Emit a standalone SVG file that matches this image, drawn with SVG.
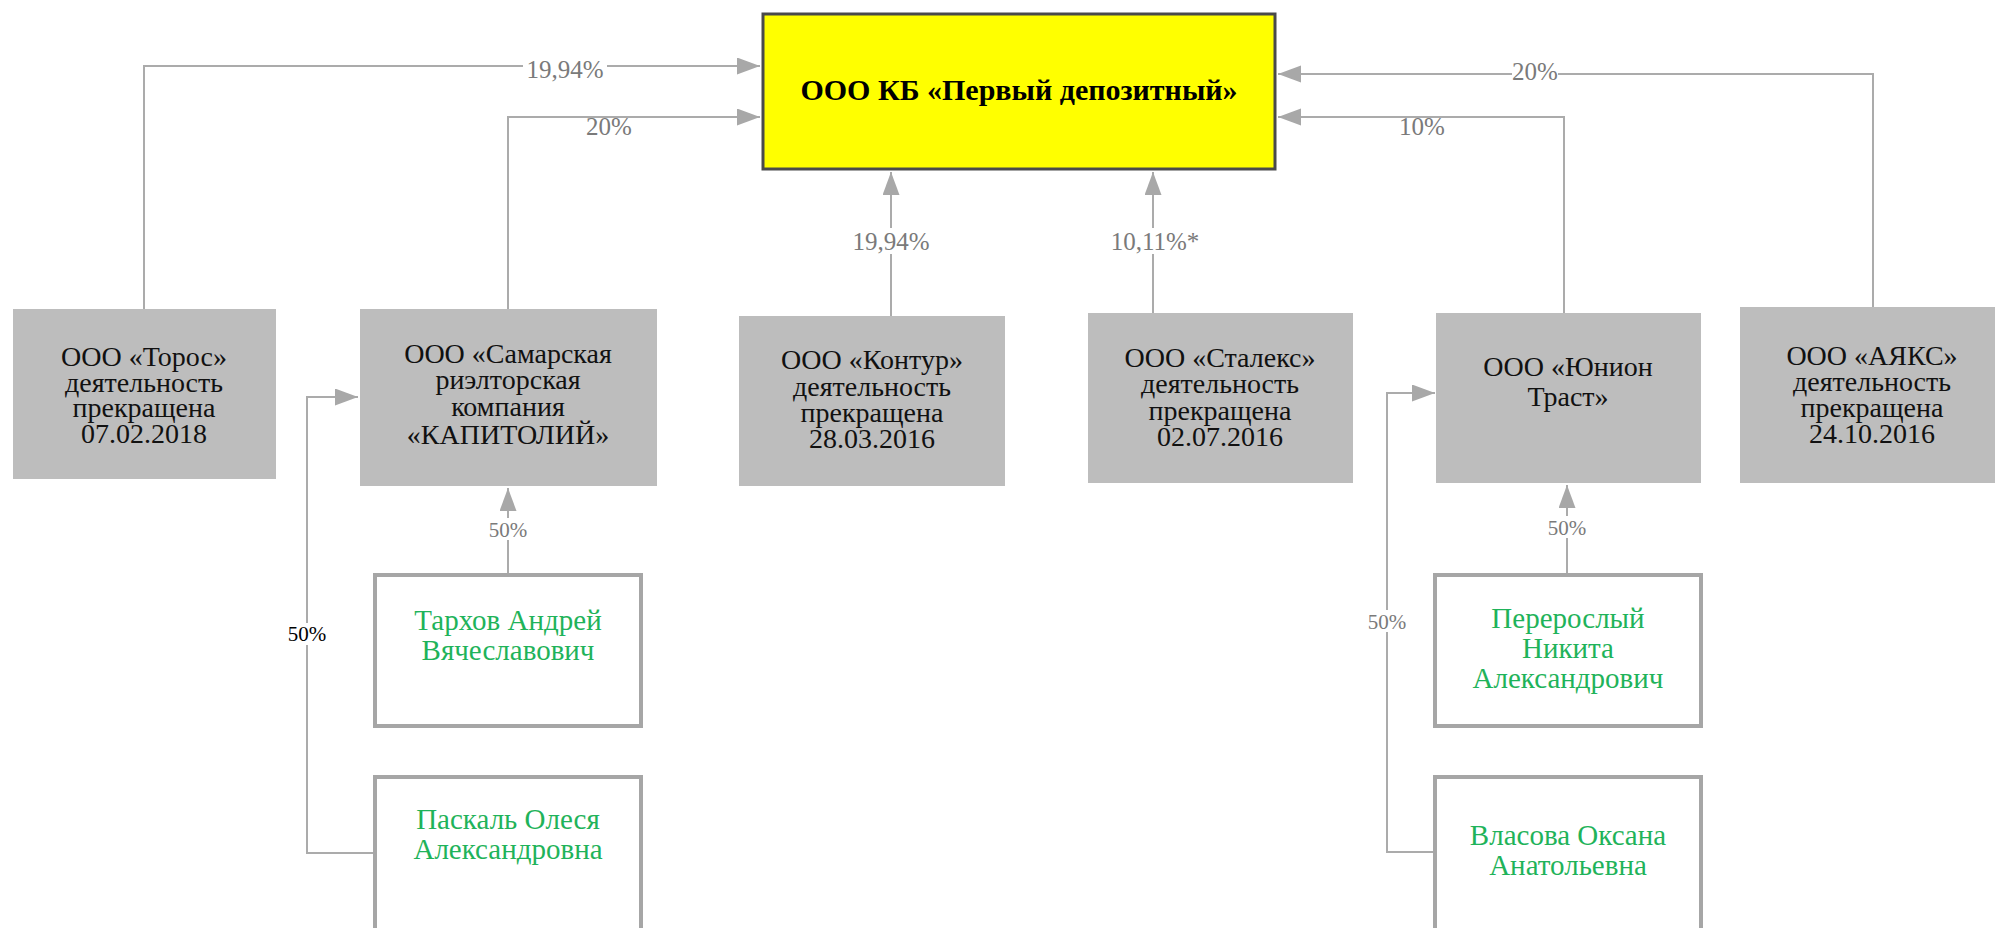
<svg xmlns="http://www.w3.org/2000/svg" width="1995" height="928" viewBox="0 0 1995 928">
<defs>
<marker id="arr" markerUnits="userSpaceOnUse" markerWidth="24" markerHeight="18" refX="23" refY="8.5" orient="auto">
<path d="M0,0 L23,8.5 L0,17 z" fill="#a8a8a8"/>
</marker>
<style>
.t{font-family:"Liberation Serif","Times New Roman",serif;text-anchor:middle}
.org{fill:#bdbdbd}
.per{fill:#ffffff;stroke:#a6a6a6;stroke-width:4}
.nt{font-size:28px;fill:#111}
.pt{font-size:29px;fill:#1fb35a}
.c{fill:none;stroke:#ababab;stroke-width:2}
.lb{font-size:25px;fill:#7a7a7a}
.ls{font-size:21px;fill:#7a7a7a}
.bg{fill:#ffffff}
</style>
</defs>
<rect width="1995" height="928" fill="#ffffff"/>

<g id="connectors">
<path class="c" d="M144,309 V66 H760" marker-end="url(#arr)"/>
<path class="c" d="M508,309 V117 H760" marker-end="url(#arr)"/>
<path class="c" d="M891,316 V172" marker-end="url(#arr)"/>
<path class="c" d="M1153,313 V172" marker-end="url(#arr)"/>
<path class="c" d="M1564,313 V117 H1278" marker-end="url(#arr)"/>
<path class="c" d="M1873,307 V74 H1278" marker-end="url(#arr)"/>
<path class="c" d="M508,573 V488" marker-end="url(#arr)"/>
<path class="c" d="M374,853 H307 V397 H358" marker-end="url(#arr)"/>
<path class="c" d="M1567,573 V485" marker-end="url(#arr)"/>
<path class="c" d="M1434,852 H1387 V393 H1435" marker-end="url(#arr)"/>
<rect class="bg" x="523" y="58" width="84" height="24"/>
<text class="t lb" x="565" y="78">19,94%</text>
<rect class="bg" x="586" y="118" width="46" height="20"/>
<text class="t lb" x="609" y="135">20%</text>
<rect class="bg" x="849" y="228" width="84" height="26"/>
<text class="t lb" x="891" y="250">19,94%</text>
<rect class="bg" x="1108" y="228" width="92" height="26"/>
<text class="t lb" x="1155" y="250">10,11%*</text>
<rect class="bg" x="1399" y="118" width="46" height="20"/>
<text class="t lb" x="1422" y="135">10%</text>
<rect class="bg" x="1512" y="60" width="46" height="22"/>
<text class="t lb" x="1535" y="80">20%</text>
<rect class="bg" x="488" y="518" width="40" height="22"/>
<text class="t ls" x="508" y="537">50%</text>
<rect class="bg" x="287" y="623" width="40" height="22"/>
<text class="t ls" x="307" y="641" style="fill:#000">50%</text>
<rect class="bg" x="1547" y="516" width="40" height="22"/>
<text class="t ls" x="1567" y="535">50%</text>
<rect class="bg" x="1367" y="610" width="40" height="22"/>
<text class="t ls" x="1387" y="629">50%</text>
</g>

<g id="bank">
<rect x="763" y="14" width="512" height="155" fill="#ffff00" stroke="#4a4a4a" stroke-width="3"/>
<text class="t" x="1019" y="100" font-size="30" font-weight="bold" fill="#000">ООО КБ «Первый депозитный»</text>
</g>

<g id="toros">
<rect class="org" x="13" y="309" width="263" height="170"/>
<text class="t nt" x="144"><tspan x="144" y="366">ООО «Торос»</tspan><tspan x="144" y="392">деятельность</tspan><tspan x="144" y="417">прекращена</tspan><tspan x="144" y="443">07.02.2018</tspan></text>
</g>

<g id="kapitoliy">
<rect class="org" x="360" y="309" width="297" height="177"/>
<text class="t nt" x="508"><tspan x="508" y="363">ООО «Самарская</tspan><tspan x="508" y="389">риэлторская</tspan><tspan x="508" y="416">компания</tspan><tspan x="508" y="444">«КАПИТОЛИЙ»</tspan></text>
</g>

<g id="kontur">
<rect class="org" x="739" y="316" width="266" height="170"/>
<text class="t nt" x="872"><tspan x="872" y="369">ООО «Контур»</tspan><tspan x="872" y="396">деятельность</tspan><tspan x="872" y="422">прекращена</tspan><tspan x="872" y="448">28.03.2016</tspan></text>
</g>

<g id="staleks">
<rect class="org" x="1088" y="313" width="265" height="170"/>
<text class="t nt" x="1220"><tspan x="1220" y="367">ООО «Сталекс»</tspan><tspan x="1220" y="393">деятельность</tspan><tspan x="1220" y="420">прекращена</tspan><tspan x="1220" y="446">02.07.2016</tspan></text>
</g>

<g id="union">
<rect class="org" x="1436" y="313" width="265" height="170"/>
<text class="t nt" x="1568"><tspan x="1568" y="376">ООО «Юнион</tspan><tspan x="1568" y="406">Траст»</tspan></text>
</g>

<g id="ajaks">
<rect class="org" x="1740" y="307" width="265" height="176"/>
<text class="t nt" x="1872"><tspan x="1872" y="365">ООО «АЯКС»</tspan><tspan x="1872" y="391">деятельность</tspan><tspan x="1872" y="417">прекращена</tspan><tspan x="1872" y="443">24.10.2016</tspan></text>
</g>

<g id="tarkhov">
<rect class="per" x="375" y="575" width="266" height="151"/>
<text class="t pt" x="508"><tspan x="508" y="630">Тархов Андрей</tspan><tspan x="508" y="660">Вячеславович</tspan></text>
</g>

<g id="paskal">
<rect class="per" x="375" y="777" width="266" height="160"/>
<text class="t pt" x="508"><tspan x="508" y="829">Паскаль Олеся</tspan><tspan x="508" y="859">Александровна</tspan></text>
</g>

<g id="pererosly">
<rect class="per" x="1435" y="575" width="266" height="151"/>
<text class="t pt" x="1568"><tspan x="1568" y="628">Перерослый</tspan><tspan x="1568" y="658">Никита</tspan><tspan x="1568" y="688">Александрович</tspan></text>
</g>

<g id="vlasova">
<rect class="per" x="1435" y="777" width="266" height="160"/>
<text class="t pt" x="1568"><tspan x="1568" y="845">Власова Оксана</tspan><tspan x="1568" y="875">Анатольевна</tspan></text>
</g>
</svg>
